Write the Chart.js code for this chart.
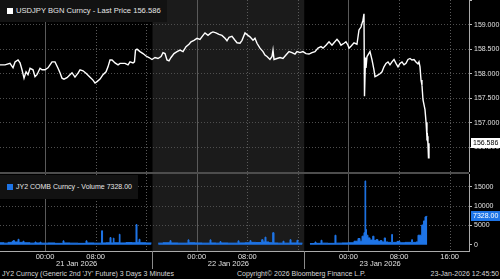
<!DOCTYPE html>
<html>
<head>
<meta charset="utf-8">
<script src="https://cdn.jsdelivr.net/npm/chart.js@4.4.1/dist/chart.umd.min.js"></script>
<style>
html, body { margin: 0; padding: 0; background: #000; }
#wrap { position: relative; width: 500px; height: 279px; overflow: hidden; background: #000;
        font-family: "Liberation Sans", Arial, sans-serif; color: #e6e6e6; }
canvas { position: absolute; left: 0; }
#cPrice { top: 0; }
#cVol { top: 174px; }
#sep { position: absolute; left: 0; top: 172px; width: 469px; height: 2px; background: #4d4d4d; }
.leg { position: absolute; left: 0; background: #121212; font-size: 7px; white-space: nowrap; padding: 0 6px 0 16px; }
.leg i { position: absolute; left: 7px; width: 6px; height: 6px; }
.foot { position: absolute; top: 269px; font-size: 7px; line-height: 10px; color: #d8d8d8; white-space: nowrap; }
</style>
</head>
<body>
<div id="wrap">
  <canvas id="cPrice" width="500" height="172"></canvas>
  <div id="sep"></div>
  <canvas id="cVol" width="500" height="95"></canvas>
  <div class="leg" style="top:0;height:22px;line-height:22px;font-size:7.6px;"><i style="top:8px;background:#fff;"></i>USDJPY BGN Curncy - Last Price 156.586</div>
  <div class="leg" style="top:175px;height:24px;line-height:24px;"><i style="top:9px;background:#1e74e6;"></i>JY2 COMB Curncy - Volume 7328.00</div>
  <div class="foot" style="left:2px;">JY2 Curncy (Generic 2nd 'JY' Future) 3 Days 3 Minutes</div>
  <div class="foot" style="left:237px;">Copyright© 2026 Bloomberg Finance L.P.</div>
  <div class="foot" style="right:1px;">23-Jan-2026 12:45:50</div>
</div>
<script>
// hours counted from 21 Jan 2026 00:00
var xMin = -7.12, xMax = 67.06;
var gridHours = [0, 8, 16, 24, 32, 40, 48, 56, 64];
var timeLabels = { 0: '00:00', 8: '08:00', 24: '00:00', 32: '08:00', 48: '00:00', 56: '08:00', 64: '16:00' };
var sessionStart = 17, sessionEnd = 41;
var dateCenters = [5, 29, 53];
var dateLabels = ['21 Jan 2026', '22 Jan 2026', '23 Jan 2026'];

var priceTicks = [156, 156.5, 157, 157.5, 158, 158.5, 159, 159.5];
var volTicks = [0, 5000, 10000, 15000];
var lastPrice = 156.586;
var lastVolume = 7328;

// USDJPY last price
var priceHours = [
  -7.12,-6.33,-5.54,-5.06,-4.74,-4.27,-3.95,-3.64,-3.32,-3.00,
  -2.69,-2.37,-1.90,-1.58,-1.27,-0.79,-0.47,0,0.47,0.79,
  1.11,1.58,2.06,2.37,2.69,3.00,3.48,3.95,4.27,4.74,
  5.22,5.54,6.01,6.48,7.12,7.59,7.91,8.22,8.70,9.17,
  9.65,9.96,10.28,10.60,11.07,11.55,11.86,12.34,12.65,13.13,
  13.44,13.92,14.15,14.31,14.55,15.02,15.50,15.97,16.45,16.92,
  17.40,17.87,18.35,18.66,18.98,19.29,19.61,19.93,20.40,20.88,
  21.35,21.83,22.30,22.77,23.09,23.56,24.04,24.51,24.99,25.30,
  25.78,26.25,26.57,27.04,27.52,27.99,28.47,28.78,29.10,29.57,
  30.05,30.37,30.84,31.16,31.63,32.11,32.42,32.90,33.21,33.53,
  34.00,34.48,34.79,35.11,35.58,35.90,36.06,36.22,36.69,37.17,
  37.64,38.11,38.59,39.06,39.54,39.85,40.33,40.80,41.28,41.75,
  42.23,42.70,43.18,43.65,43.97,44.44,44.92,45.39,45.71,46.18,
  46.50,46.81,47.29,47.60,47.92,48.08,48.39,48.87,49.34,49.66,
  49.98,50.29,50.45,50.53,50.69,50.77,50.93,51.08,51.40,51.72,
  52.03,52.19,52.51,52.98,53.30,53.61,53.93,54.25,54.56,54.88,
  55.20,55.51,55.83,56.14,56.46,56.78,57.09,57.41,57.73,58.04,
  58.36,58.67,58.99,59.15,59.31,59.47,59.62,59.78,60.10,60.27,
  60.41,60.49,60.57,60.65,60.73
];
var priceValues = [
  158.18,158.18,158.21,158.12,158.24,158.28,158.22,158.08,157.91,158.04,
  157.98,158.11,158.08,157.94,157.98,158.11,158.08,158.08,158.12,158.18,
  158.24,158.24,158.11,158.02,157.91,157.89,157.92,157.98,158.02,157.93,
  158.01,158.08,158.06,158.01,157.93,157.87,157.81,157.84,157.89,157.98,
  158.04,158.14,158.28,158.28,158.22,158.18,158.21,158.21,158.21,158.18,
  158.24,158.22,158.24,158.48,158.50,158.45,158.41,158.36,158.33,158.29,
  158.33,158.31,158.35,158.43,158.41,158.28,158.26,158.33,158.41,158.45,
  158.48,158.45,158.55,158.60,158.65,158.68,158.72,158.70,158.78,158.83,
  158.78,158.83,158.85,158.83,158.80,158.78,158.72,158.67,158.74,158.76,
  158.68,158.63,158.62,158.68,158.83,158.78,158.75,158.68,158.72,158.62,
  158.52,158.45,158.38,158.35,158.29,158.35,158.48,158.29,158.31,158.33,
  158.31,158.38,158.45,158.43,158.40,158.45,158.43,158.45,158.41,158.40,
  158.43,158.45,158.52,158.55,158.52,158.58,158.65,158.58,158.63,158.70,
  158.65,158.58,158.62,158.65,158.58,158.52,158.56,158.63,158.60,158.89,
  158.95,159.09,159.22,157.54,158.33,158.12,158.35,158.35,158.45,158.28,
  158.08,157.94,157.96,158.00,158.04,158.14,158.21,158.24,158.18,158.24,
  158.29,158.21,158.14,158.21,158.24,158.18,158.21,158.29,158.31,158.28,
  158.29,158.24,158.20,158.24,158.14,157.87,157.77,157.47,157.27,157.01,
  156.70,156.73,156.56,156.29,156.586
];

// JY2 volume per bar (null = daily break)
var volHours = [
  -7.12,-6.48,-5.85,-5.22,-5.06,-4.82,-4.27,-4.11,-3.48,-3.32,
  -2.37,-1.58,-1.42,-0.79,-0.63,0.47,1.58,2.85,3.00,3.95,
  5.22,6.48,6.64,7.75,8.94,9.10,9.65,10.28,10.44,10.80,
  10.91,11.75,11.86,12.81,13.76,14.39,14.55,14.87,15.02,15.97,
  16.84,17.0,17.9,18.66,19.77,19.93,21.03,22.62,22.77,23.72,
  24.83,26.10,26.25,27.04,27.68,27.83,28.94,30.53,30.68,31.63,
  32.42,32.58,33.37,34.27,34.48,34.79,34.95,35.43,36.01,36.22,
  36.85,37.64,37.80,38.75,38.91,39.85,40.01,40.72,41.0,41.9,
  42.70,42.86,43.65,43.81,44.76,45.86,46.02,46.97,47.92,48.87,
  49.50,49.82,50.14,50.45,50.61,50.72,50.85,51.08,51.40,51.83,
  52.03,52.35,52.67,52.98,53.30,53.66,53.85,54.25,54.83,54.96,
  55.67,56.14,56.93,57.99,58.12,58.67,58.99,59.58,59.86,60.10,
  60.31,60.46
];
var volValues = [
  500,400,600,800,1050,700,1400,600,900,500,
  400,700,450,650,400,450,350,1000,450,400,
  350,1000,450,400,3600,450,500,1850,450,1700,
  500,2700,450,550,500,5200,600,1400,500,450,
  450,null,400,500,1050,450,400,1250,500,450,
  400,1250,450,400,800,450,400,1000,450,500,
  1050,600,550,1300,700,1950,700,500,3100,450,
  400,900,400,1300,450,1150,400,400,null,300,
  700,350,1150,400,350,2450,400,450,500,900,
  1600,900,2200,3100,16500,3950,2450,1750,1200,2200,
  1100,1300,800,1050,700,1750,700,600,2650,600,
  850,500,600,1300,600,700,2450,5100,6150,7200,
  7328,7328
];

var FONT = '"Liberation Sans", Arial, sans-serif';
var BLUE = '#1e74e6';
Chart.defaults.font.family = FONT;
Chart.defaults.color = '#e0e0e0';

function pairs(xs, ys) {
  return xs.map(function (x, i) { return { x: x, y: ys[i] }; });
}

// black background, grey 22 Jan session, vertical grid
var panel = {
  id: 'panel',
  beforeDraw: function (chart) {
    var ctx = chart.ctx, a = chart.chartArea, x = chart.scales.x;
    ctx.save();
    ctx.fillStyle = '#000';
    ctx.fillRect(0, 0, chart.width, chart.height);
    var x1 = x.getPixelForValue(sessionStart), x2 = x.getPixelForValue(sessionEnd);
    ctx.fillStyle = '#1b1b1b';
    ctx.fillRect(x1, a.top, x2 - x1, a.bottom - a.top);
    ctx.restore();
  },
  beforeDatasetsDraw: function (chart) {
    var ctx = chart.ctx, a = chart.chartArea, x = chart.scales.x;
    ctx.save();
    ctx.lineWidth = 1;
    gridHours.forEach(function (h) {
      var px = Math.round(x.getPixelForValue(h)) + 0.5;
      if (h % 24 === 0) { ctx.setLineDash([]); ctx.strokeStyle = '#5a5a5a'; }
      else { ctx.setLineDash([1, 2]); ctx.strokeStyle = '#5a5a5a'; }
      ctx.beginPath(); ctx.moveTo(px, a.top); ctx.lineTo(px, a.bottom); ctx.stroke();
    });
    ctx.restore();
  }
};

function badge(chart, value, text, bg, fg) {
  var ctx = chart.ctx, y = Math.round(chart.scales.y.getPixelForValue(value)), left = chart.chartArea.right + 2;
  ctx.save();
  ctx.fillStyle = bg;
  ctx.fillRect(left, y - 5, chart.width - left, 10);
  ctx.fillStyle = fg;
  ctx.font = '7px ' + FONT;
  ctx.textBaseline = 'middle';
  ctx.fillText(text, left + 2, y + 0.5);
  ctx.restore();
}

function yAxis(min, max, ticks, fmt) {
  return {
    position: 'right', min: min, max: max,
    afterBuildTicks: function (s) { s.ticks = ticks.map(function (v) { return { value: v }; }); },
    afterFit: function (s) { s.width = 31; s.paddingTop = 0; s.paddingBottom = 0; },
    ticks: { font: { size: 7 }, color: '#e0e0e0', padding: 2, callback: fmt },
    grid: {
      color: function (c) { return c.tick && c.tick.value > min && c.tick.value < max && c.tick.value !== 0 ? '#4e4e4e' : 'rgba(0,0,0,0)'; },
      tickColor: '#bbb', tickLength: 3, lineWidth: 1
    },
    border: { display: true, color: '#aaa', width: 1, dash: [1, 2] }
  };
}

new Chart(document.getElementById('cPrice'), {
  type: 'line',
  data: { datasets: [{
    data: pairs(priceHours, priceValues),
    borderColor: '#fff', borderWidth: 1.4, pointRadius: 0, tension: 0, fill: false
  }] },
  options: {
    responsive: false, animation: false, devicePixelRatio: 1,
    layout: { padding: 0 },
    plugins: { legend: { display: false }, tooltip: { enabled: false } },
    scales: {
      x: { type: 'linear', min: xMin, max: xMax, display: false },
      y: yAxis(156, 159.5, priceTicks, function (v) { return (v === 156 || v === 159.5) ? '' : v.toFixed(3); })
    }
  },
  plugins: [panel, { id: 'lastPrice', afterDraw: function (c) { badge(c, lastPrice, lastPrice.toFixed(3), '#fff', '#000'); } }]
});

new Chart(document.getElementById('cVol'), {
  type: 'line',
  data: { datasets: [{
    data: pairs(volHours, volValues),
    borderColor: BLUE, backgroundColor: BLUE, borderWidth: 1, pointRadius: 0,
    stepped: 'before', fill: 'origin', spanGaps: false
  }] },
  options: {
    responsive: false, animation: false, devicePixelRatio: 1,
    layout: { padding: 0 },
    plugins: { legend: { display: false }, tooltip: { enabled: false } },
    scales: {
      x: {
        type: 'linear', min: xMin, max: xMax,
        afterBuildTicks: function (s) { s.ticks = gridHours.map(function (v) { return { value: v }; }); },
        afterFit: function (s) { s.height = 18; s.paddingLeft = 0; s.paddingRight = 0; },
        ticks: { font: { size: 7.5 }, color: '#e0e0e0', padding: 1, maxRotation: 0, autoSkip: false,
                 callback: function (v) { return timeLabels[v] || ''; } },
        grid: { display: false, drawTicks: false },
        border: { display: true, color: '#aaa', width: 1 }
      },
      y: yAxis(-1630, 18290, volTicks, function (v) { return String(v); })
    }
  },
  plugins: [panel, { id: 'axisExtras', afterDraw: function (chart) {
    var ctx = chart.ctx, x = chart.scales.x, a = chart.chartArea;
    ctx.save();
    ctx.strokeStyle = '#8a8a8a'; ctx.lineWidth = 1;
    [sessionStart, sessionEnd].forEach(function (h) {
      var px = Math.round(x.getPixelForValue(h)) + 0.5;
      ctx.beginPath(); ctx.moveTo(px, a.bottom); ctx.lineTo(px, chart.height); ctx.stroke();
    });
    ctx.fillStyle = '#e0e0e0';
    ctx.font = '7.5px ' + FONT;
    ctx.textAlign = 'center'; ctx.textBaseline = 'middle';
    dateCenters.forEach(function (h, i) { ctx.fillText(dateLabels[i], x.getPixelForValue(h), a.bottom + 13); });
    ctx.restore();
    badge(chart, lastVolume, lastVolume.toFixed(2), BLUE, '#fff');
  } }]
});
</script>
</body>
</html>
